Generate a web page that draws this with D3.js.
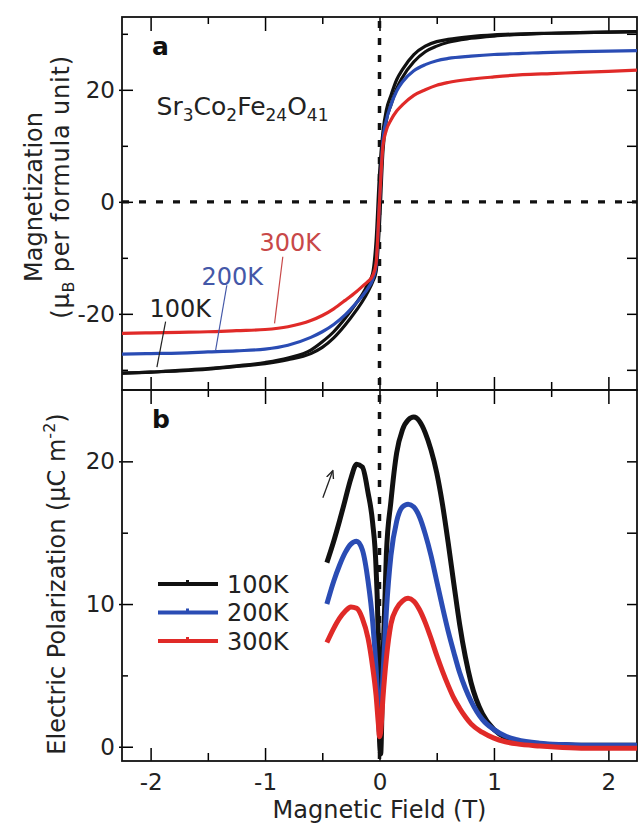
<!DOCTYPE html>
<html>
<head>
<meta charset="utf-8">
<script src="https://cdn.jsdelivr.net/npm/d3@7"></script>
<style>
  body { margin: 0; background: #fff; }
  svg { display: block; }
  text { font-family: "DejaVu Sans", sans-serif; fill: #222; }
</style>
</head>
<body>
<div id="chart"></div>
<script>
// ---- data ----
var tempLabels = ["100K", "200K", "300K"];

// panel a : magnetization vs field
var fieldA = [-2.25, -2, -1.75, -1.5, -1.25, -1, -0.8, -0.6, -0.5, -0.4, -0.3, -0.2, -0.15, -0.1, -0.06, -0.03,
  0, 0.03, 0.06, 0.1, 0.15, 0.2, 0.3, 0.4, 0.5, 0.6, 0.8, 1, 1.25, 1.5, 1.75, 2, 2.25];
var mag100Up = [-30.6, -30.4, -30.2, -29.9, -29.4, -28.9, -28.2, -27.1, -26.0, -24.3, -22.0, -19.3, -17.8, -16.0, -14.3, -12.5,
  -4, 9, 14.5, 17.3, 20.2, 22.2, 25.0, 26.8, 27.8, 28.5, 29.2, 29.6, 29.9, 30.1, 30.2, 30.3, 30.4];
var mag100Down = [-30.6, -30.4, -30.1, -29.8, -29.3, -28.7, -27.9, -26.5, -25.0, -23.2, -20.8, -18.0, -16.5, -14.6, -12.8, -7,
  5, 12.5, 16.4, 19.0, 21.8, 23.6, 26.3, 27.8, 28.6, 29.0, 29.5, 29.8, 30.0, 30.1, 30.2, 30.3, 30.4];
var mag200 = [-27.2, -27.1, -27.0, -26.8, -26.6, -26.3, -25.6, -24.2, -23.2, -21.9, -20.2, -18.0, -16.8, -15.4, -13.9, -11.5,
  0, 11.0, 14.6, 17.3, 19.8, 21.4, 23.4, 24.5, 25.2, 25.6, 26.0, 26.3, 26.5, 26.7, 26.8, 26.9, 27.0];
var mag300 = [-23.5, -23.4, -23.3, -23.2, -23.0, -22.8, -22.3, -21.2, -20.3, -19.1, -17.6, -16.0, -15.1, -14.2, -13.2, -11.0,
  0, 10.0, 12.8, 14.6, 16.2, 17.3, 19.0, 20.0, 20.8, 21.3, 21.9, 22.3, 22.7, 22.9, 23.1, 23.3, 23.5];

// panel b : electric polarization vs field
var fieldB = [-0.46, -0.4, -0.35, -0.3, -0.25, -0.2, -0.15, -0.1, -0.06, -0.03, -0.01, 0, 0.01, 0.03, 0.06, 0.1,
  0.15, 0.2, 0.25, 0.3, 0.35, 0.4, 0.45, 0.5, 0.55, 0.6, 0.65, 0.7, 0.75, 0.8, 0.9, 1.0, 1.1, 1.2, 1.4, 1.6, 1.8, 2.0, 2.25];
var pol100 = [12.9, 14.4, 15.8, 17.3, 18.8, 19.8, 19.6, 17.8, 15.7, 12.5, 7, 0.5, -0.5, 6, 13.5, 17.2,
  20.6, 22.2, 22.9, 23.1, 22.8, 22.0, 20.8, 19.2, 17.0, 14.3, 11.4, 8.6, 6.3, 4.5, 2.3, 1.2, 0.65, 0.4, 0.2, 0.15, 0.1, 0.1, 0.1];
var pol200 = [10.0, 11.6, 12.7, 13.6, 14.2, 14.4, 13.8, 11.6, 8.8, 5.5, 2.5, 1.0, 1.5, 5.0, 9.5, 13.4,
  15.8, 16.8, 17.0, 16.8, 16.1, 14.9, 13.4, 11.6, 9.8, 8.1, 6.6, 5.2, 4.1, 3.2, 1.9, 1.2, 0.75, 0.5, 0.25, 0.15, 0.1, 0.1, 0.1];
var pol300 = [7.3, 8.3, 9.0, 9.5, 9.8, 9.7, 9.0, 7.6, 5.6, 3.6, 1.6, 0.7, 1.0, 3.4, 6.2, 8.6,
  9.7, 10.2, 10.4, 10.2, 9.6, 8.7, 7.6, 6.4, 5.3, 4.3, 3.4, 2.7, 2.1, 1.6, 1.0, 0.6, 0.35, 0.2, 0.05, -0.05, -0.1, -0.1, -0.1];

// ticks
var xTicks = [-2, -1, 0, 1, 2];
var xMinor = [-1.5, -0.5, 0.5, 1.5];
var yTicksA = [-20, 0, 20];
var yMinorA = [-30, -10, 10, 30];
var yTicksB = [0, 10, 20];
var yMinorB = [5, 15];

// ---- layout ----
var width = 639, height = 830;
var left = 122, right = 637;
var topA = 17, botA = 390, topB = 390, botB = 761;
var colors = ["#111111", "#2a4cb4", "#e02a28"];
var labelColors = ["#222222", "#4458a8", "#c84848"];

var svg = d3.select("#chart").append("svg")
  .attr("width", width)
  .attr("height", height);

var x = d3.scaleLinear().domain([-2.25, 2.25]).range([left, right]);
var yA = d3.scaleLinear().domain([-33.6, 33]).range([botA, topA]);
var yB = d3.scaleLinear().domain([-1, 25]).range([botB, topB]);

// ---- axes ----
function numFmt(d) { return String(d); }

function drawTicks(yScale, yTop, yBot, yMajor, yMinor, showXLabels) {
  // left, labelled
  svg.append("g").attr("transform", "translate(" + left + ",0)")
    .call(d3.axisLeft(yScale).tickValues(yMajor).tickSize(-11).tickPadding(7).tickFormat(numFmt))
    .call(g => g.select(".domain").remove())
    .call(g => g.selectAll(".tick line").attr("x1", -3).attr("stroke-width", 1.5))
    .call(g => g.selectAll(".tick text").attr("font-size", 23).attr("font-family", "DejaVu Sans").attr("fill", "#222"));
  svg.append("g").attr("transform", "translate(" + left + ",0)")
    .call(d3.axisLeft(yScale).tickValues(yMinor).tickSize(-6).tickFormat(""))
    .call(g => g.select(".domain").remove())
    .call(g => g.selectAll(".tick line").attr("stroke-width", 1.5));
  // right
  svg.append("g").attr("transform", "translate(" + right + ",0)")
    .call(d3.axisRight(yScale).tickValues(yMajor.concat(yMinor)).tickSize(-10).tickFormat(""))
    .call(g => g.select(".domain").remove())
    .call(g => g.selectAll(".tick line").attr("stroke-width", 1.5));
  // top
  svg.append("g").attr("transform", "translate(0," + yTop + ")")
    .call(d3.axisTop(x).tickValues(xTicks).tickSize(-14).tickFormat(""))
    .call(g => g.select(".domain").remove())
    .call(g => g.selectAll(".tick line").attr("stroke-width", 1.5));
  svg.append("g").attr("transform", "translate(0," + yTop + ")")
    .call(d3.axisTop(x).tickValues(xMinor).tickSize(-7).tickFormat(""))
    .call(g => g.select(".domain").remove())
    .call(g => g.selectAll(".tick line").attr("stroke-width", 1.5));
  // bottom
  svg.append("g").attr("transform", "translate(0," + yBot + ")")
    .call(d3.axisBottom(x).tickValues(xTicks).tickSize(-13).tickPadding(13).tickFormat(showXLabels ? numFmt : ""))
    .call(g => g.select(".domain").remove())
    .call(g => g.selectAll(".tick line").attr("stroke-width", 1.5))
    .call(g => g.selectAll(".tick text").attr("font-size", 23).attr("font-family", "DejaVu Sans").attr("fill", "#222"));
  svg.append("g").attr("transform", "translate(0," + yBot + ")")
    .call(d3.axisBottom(x).tickValues(xMinor).tickSize(-8).tickFormat(""))
    .call(g => g.select(".domain").remove())
    .call(g => g.selectAll(".tick line").attr("stroke-width", 1.5));
  // frame
  svg.append("rect")
    .attr("x", left).attr("y", yTop)
    .attr("width", right - left).attr("height", yBot - yTop)
    .attr("fill", "none").attr("stroke", "#111").attr("stroke-width", 1.8);
}

drawTicks(yA, topA, botA, yTicksA, yMinorA, false);
drawTicks(yB, topB, botB, yTicksB, yMinorB, true);

// ---- reference dotted lines ----
svg.append("line")
  .attr("x1", left).attr("x2", right)
  .attr("y1", yA(0)).attr("y2", yA(0))
  .attr("stroke", "#111").attr("stroke-width", 3.2).attr("stroke-dasharray", "7,10");
svg.append("line")
  .attr("x1", x(0)).attr("x2", x(0))
  .attr("y1", topA + 4).attr("y2", botB)
  .attr("stroke", "#111").attr("stroke-width", 3.5).attr("stroke-dasharray", "7,10");

// ---- panel a curves ----
var lineA = d3.line()
  .x(function (d, i) { return x(fieldA[i]); })
  .y(function (d) { return yA(d); })
  .curve(d3.curveMonotoneX);

var seriesA = [
  { values: mag100Up, color: colors[0] },
  { values: mag100Down, color: colors[0] },
  { values: mag200, color: colors[1] },
  { values: mag300, color: colors[2] }
];
svg.append("g").selectAll("path")
  .data(seriesA)
  .enter()
  .append("path")
  .attr("d", function (d) { return lineA(d.values); })
  .attr("fill", "none")
  .attr("stroke", function (d) { return d.color; })
  .attr("stroke-width", 3.2);

// temperature labels with leader lines (data coordinates)
var tagText = [[-2.01, -20.6], [-1.555, -14.9], [-1.048, -8.8]];
var tagLine = [
  [[-1.869, -21.4], [-1.945, -29.5]],
  [[-1.334, -14.9], [-1.432, -26.5]],
  [[-0.845, -9.8], [-0.917, -21.7]]
];
tempLabels.forEach(function (t, i) {
  svg.append("line")
    .attr("x1", x(tagLine[i][0][0])).attr("y1", yA(tagLine[i][0][1]))
    .attr("x2", x(tagLine[i][1][0])).attr("y2", yA(tagLine[i][1][1]))
    .attr("stroke", labelColors[i]).attr("stroke-width", 1.2);
  svg.append("text")
    .attr("x", x(tagText[i][0])).attr("y", yA(tagText[i][1]))
    .attr("font-size", 24)
    .style("fill", labelColors[i])
    .text(t);
});

// formula
var formula = svg.append("text")
  .attr("x", x(-1.948)).attr("y", yA(15.5))
  .attr("font-size", 25);
[["Sr", 0], ["3", 1], ["Co", 0], ["2", 1], ["Fe", 0], ["24", 1], ["O", 0], ["41", 1]].forEach(function (p, i, arr) {
  var prevSub = i > 0 && arr[i - 1][1];
  formula.append("tspan")
    .attr("font-size", p[1] ? 17 : 25)
    .attr("dy", p[1] ? 6 : (prevSub ? -6 : 0))
    .text(p[0]);
});

// panel letters
svg.append("text").attr("x", 152).attr("y", 55)
  .attr("font-size", 25).attr("font-weight", "bold").style("fill", "#111").text("a");
svg.append("text").attr("x", 152).attr("y", 428)
  .attr("font-size", 25).attr("font-weight", "bold").style("fill", "#111").text("b");

// ---- panel b curves ----
var lineB = d3.line()
  .x(function (d, i) { return x(fieldB[i]); })
  .y(function (d) { return yB(d); })
  .curve(d3.curveMonotoneX);

var seriesB = [pol100, pol200, pol300];
svg.append("g").selectAll("path")
  .data(seriesB)
  .enter()
  .append("path")
  .attr("d", function (d) { return lineB(d); })
  .attr("fill", "none")
  .attr("stroke", function (d, i) { return colors[i]; })
  .attr("stroke-width", 5);

// small arrow near 100K left peak
svg.append("defs").append("marker")
  .attr("id", "arr").attr("viewBox", "0 0 10 10")
  .attr("refX", 8).attr("refY", 5)
  .attr("markerWidth", 7).attr("markerHeight", 7)
  .attr("orient", "auto")
  .append("path").attr("d", "M0,1 L9,5 L0,9").attr("fill", "none").attr("stroke", "#222").attr("stroke-width", 1.5);
svg.append("line")
  .attr("x1", x(-0.495)).attr("y1", yB(17.45))
  .attr("x2", x(-0.41)).attr("y2", yB(19.3))
  .attr("stroke", "#222").attr("stroke-width", 1.3)
  .attr("marker-end", "url(#arr)");

// legend
var legend = svg.append("g").attr("transform", "translate(" + (left + 36) + "," + (topB + 194) + ")");
tempLabels.forEach(function (t, i) {
  var row = legend.append("g").attr("transform", "translate(0," + (i * 28.5) + ")");
  row.append("line").attr("x1", 0).attr("x2", 60).attr("y1", 0).attr("y2", 0)
    .attr("stroke", colors[i]).attr("stroke-width", 4);
  row.append("rect").attr("x", 28).attr("y", -4).attr("width", 3).attr("height", 4)
    .attr("fill", colors[i]);
  row.append("text").attr("x", 69).attr("y", 0).attr("dy", "0.36em")
    .attr("font-size", 24).text(t);
});

// ---- axis titles ----
svg.append("text")
  .attr("transform", "translate(42," + 197 + ") rotate(-90)")
  .attr("text-anchor", "middle").attr("font-size", 24)
  .text("Magnetization");
var t2 = svg.append("text")
  .attr("transform", "translate(69," + 187 + ") rotate(-90)")
  .attr("text-anchor", "middle").attr("font-size", 24)
  .attr("letter-spacing", 0.8);
t2.append("tspan").text("(\u03bc");
t2.append("tspan").attr("font-size", 16).attr("dy", 5).text("B");
t2.append("tspan").attr("dy", -5).text(" per formula unit)");

var t3 = svg.append("text")
  .attr("transform", "translate(65," + 584 + ") rotate(-90)")
  .attr("text-anchor", "middle").attr("font-size", 24);
t3.append("tspan").text("Electric Polarization (\u03bcC m");
t3.append("tspan").attr("font-size", 16).attr("dy", -10).text("-2");
t3.append("tspan").attr("dy", 10).text(")");

svg.append("text")
  .attr("x", x(0)).attr("y", 818)
  .attr("text-anchor", "middle").attr("font-size", 24)
  .text("Magnetic Field (T)");
</script>
</body>
</html>
